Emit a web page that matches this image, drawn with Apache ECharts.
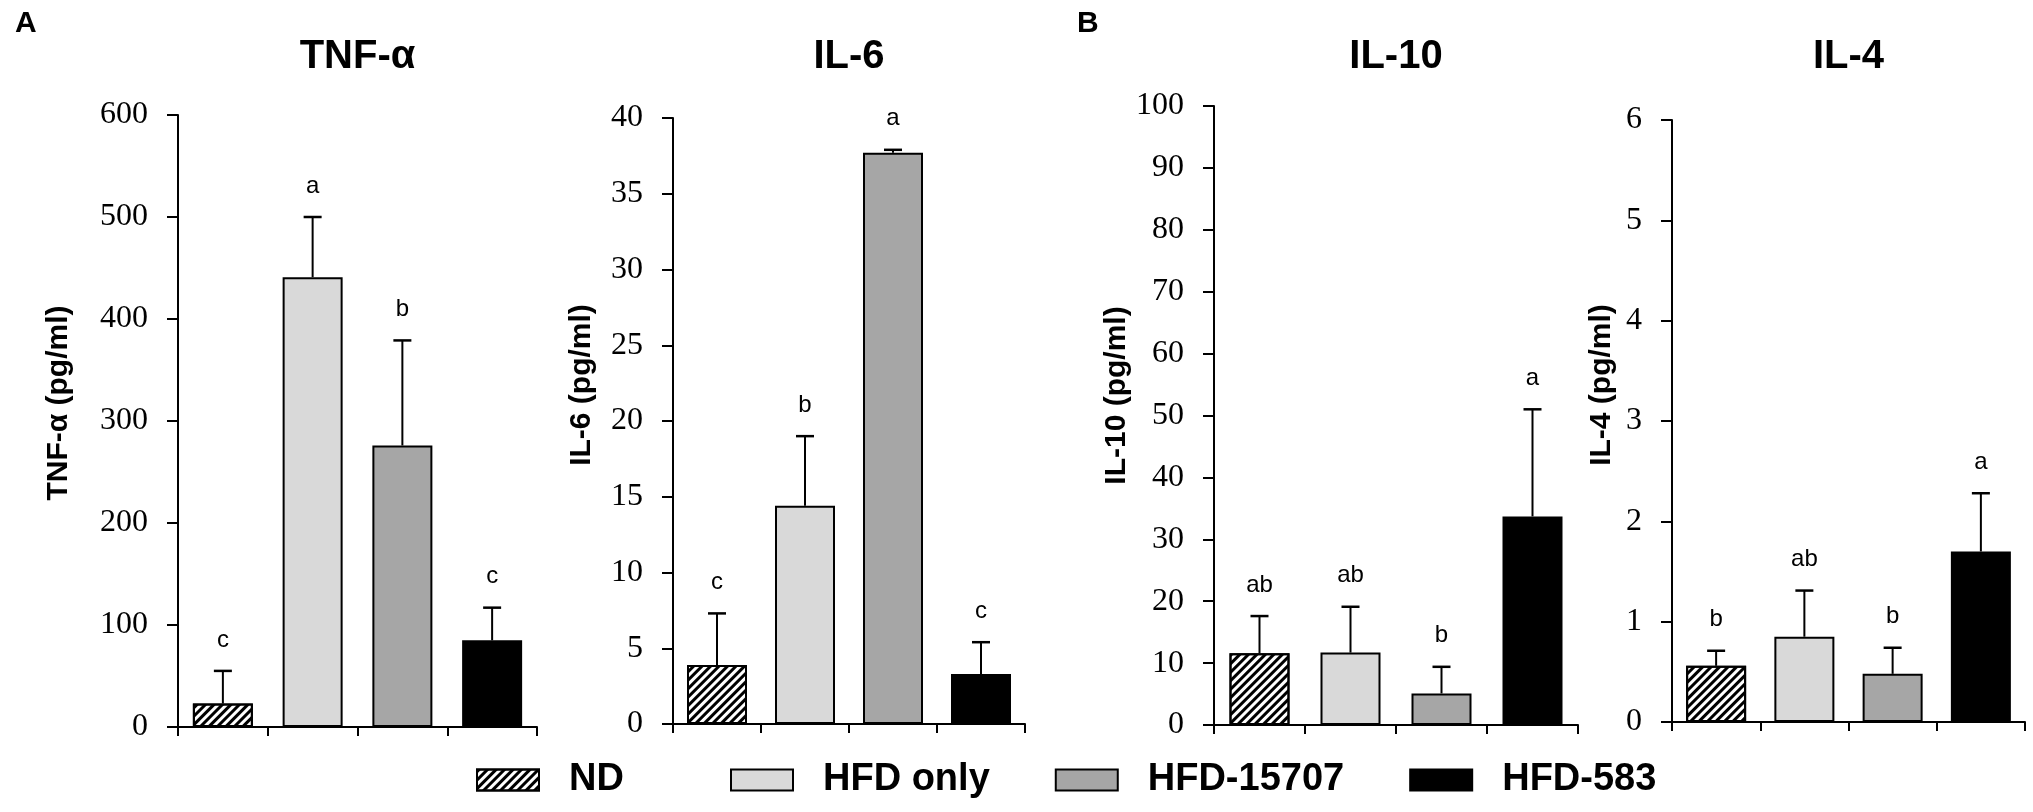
<!DOCTYPE html>
<html lang="en">
<head>
<meta charset="UTF-8">
<title>TNF-α, IL-6, IL-10, IL-4</title>
<script src="https://cdn.jsdelivr.net/npm/echarts@6/dist/echarts.min.js"></script>
<style>
  html, body { margin: 0; padding: 0; background: #fff; }
  #main { width: 2033px; height: 812px; }
</style>
</head>
<body>
<div id="main"></div>
<script>
// groups (legend / categories)
var groups = ['ND', 'HFD only', 'HFD-15707', 'HFD-583'];

// mean, sd and significance letters
var tnfMean = [23, 441, 276, 85];
var tnfSd = [32, 59, 103, 32];
var tnfSig = ['c', 'a', 'b', 'c'];

var il6Mean = [3.9, 14.4, 37.7, 3.3];
var il6Sd = [3.4, 4.6, 0.2, 2.1];
var il6Sig = ['c', 'b', 'a', 'c'];

var il10Mean = [11.6, 11.7, 5.1, 33.7];
var il10Sd = [6.0, 7.4, 4.3, 17.3];
var il10Sig = ['ab', 'ab', 'b', 'a'];

var il4Mean = [0.56, 0.85, 0.48, 1.70];
var il4Sd = [0.15, 0.46, 0.26, 0.58];
var il4Sig = ['b', 'ab', 'b', 'a'];

var SANS = '"Liberation Sans", Arial, sans-serif';
var SERIF = '"Liberation Serif", "Times New Roman", serif';

// bar look per group
var barStyles = [
  { color: '#fff', borderColor: '#000', borderWidth: 2,
    decal: { symbol: 'rect', symbolSize: 1, dashArrayX: [1, 0], dashArrayY: [2.4, 2.4], rotation: -Math.PI / 4, color: '#000' } },
  { color: '#d9d9d9', borderColor: '#000', borderWidth: 2 },
  { color: '#a6a6a6', borderColor: '#000', borderWidth: 2 },
  { color: '#000', borderColor: '#000', borderWidth: 2 }
];

var panels = [
  { title: 'TNF-α', yName: 'TNF-α (pg/ml)', mean: tnfMean, sd: tnfSd, sig: tnfSig, max: 600, step: 100,
    left: 178, top: 115, width: 359, height: 612, nameGap: 104, namePad: 36 },
  { title: 'IL-6', yName: 'IL-6 (pg/ml)', mean: il6Mean, sd: il6Sd, sig: il6Sig, max: 40, step: 5,
    left: 673, top: 118, width: 352, height: 606, nameGap: 76, namePad: 72 },
  { title: 'IL-10', yName: 'IL-10 (pg/ml)', mean: il10Mean, sd: il10Sd, sig: il10Sig, max: 100, step: 10,
    left: 1214, top: 106, width: 364, height: 619, nameGap: 79, namePad: 40 },
  { title: 'IL-4', yName: 'IL-4 (pg/ml)', mean: il4Mean, sd: il4Sd, sig: il4Sig, max: 6, step: 1,
    left: 1672, top: 120, width: 353, height: 602, nameGap: 55, namePad: 72 }
];

var axisLine = { lineStyle: { color: '#000', width: 2 } };

function errorBars(p) {
  return function (params, api) {
    var j = api.value(0);
    var base = api.coord([j, api.value(1)]);
    var tip = api.coord([j, api.value(2)]);
    return {
      type: 'group',
      children: [
        { type: 'line', shape: { x1: base[0], y1: base[1], x2: tip[0], y2: tip[1] },
          style: { stroke: '#000', lineWidth: 2 } },
        { type: 'line', shape: { x1: tip[0] - 9, y1: tip[1], x2: tip[0] + 9, y2: tip[1] },
          style: { stroke: '#000', lineWidth: 2.5 } },
        { type: 'text', style: { text: p.sig[params.dataIndex], x: tip[0], y: tip[1] - 31,
          align: 'center', verticalAlign: 'middle', font: '24px ' + SANS, fill: '#000' } }
      ]
    };
  };
}

var grids = [], xAxes = [], yAxes = [], series = [], graphics = [];

panels.forEach(function (p, i) {
  grids.push({ left: p.left, top: p.top, width: p.width, height: p.height,
    containLabel: false, outerBoundsMode: 'none' });
  xAxes.push({
    type: 'category', gridIndex: i, data: groups,
    axisLine: axisLine,
    axisTick: { show: true, length: 9, lineStyle: { color: '#000', width: 2 } },
    axisLabel: { show: false },
    splitLine: { show: false }
  });
  yAxes.push({
    type: 'value', gridIndex: i, min: 0, max: p.max, interval: p.step,
    name: p.yName, nameLocation: 'middle', nameRotate: 90, nameGap: p.nameGap,
    nameTextStyle: { fontFamily: SANS, fontSize: 30, fontWeight: 'bold', color: '#000',
      padding: [0, 0, 0, p.namePad] },
    axisLine: { show: true, lineStyle: { color: '#000', width: 2 } },
    axisTick: { show: true, length: 11, lineStyle: { color: '#000', width: 2 } },
    axisLabel: { margin: 30, fontFamily: SERIF, fontSize: 32, color: '#000' },
    splitLine: { show: false }
  });
  groups.forEach(function (g, k) {
    series.push({
      type: 'bar', name: g, xAxisIndex: i, yAxisIndex: i,
      barWidth: 60, barGap: '-100%',
      data: p.mean.map(function (v, j) { return j === k ? v : '-'; }),
      itemStyle: barStyles[k],
      silent: true
    });
  });
  series.push({
    type: 'custom', name: 'err' + i, xAxisIndex: i, yAxisIndex: i, z: 5, silent: true,
    data: p.mean.map(function (m, j) { return [j, m, m + p.sd[j]]; }),
    renderItem: errorBars(p)
  });
  graphics.push({ type: 'text', x: p.left + p.width / 2, y: 57,
    style: { text: p.title, font: 'bold 40px ' + SANS, fill: '#000', align: 'center', verticalAlign: 'middle' } });
});

graphics.push({ type: 'text', x: 15, y: 24,
  style: { text: 'A', font: 'bold 30px ' + SANS, fill: '#000', align: 'left', verticalAlign: 'middle' } });
graphics.push({ type: 'text', x: 1077, y: 24,
  style: { text: 'B', font: 'bold 30px ' + SANS, fill: '#000', align: 'left', verticalAlign: 'middle' } });

var legendBase = {
  orient: 'horizontal', top: 761, itemWidth: 62, itemHeight: 21, itemGap: 65,
  icon: 'rect', selectedMode: false, padding: 0,
  itemStyle: { borderColor: '#000', borderWidth: 2 },
  textStyle: { fontFamily: SANS, fontSize: 38, fontWeight: 'bold', color: '#000', padding: [0, 0, 0, 25] }
};

var chart = echarts.init(document.getElementById('main'));
chart.setOption({
  animation: false,
  backgroundColor: '#fff',
  grid: grids,
  xAxis: xAxes,
  yAxis: yAxes,
  legend: [
    Object.assign({}, legendBase, { left: 476, data: ['ND'] }),
    Object.assign({}, legendBase, { left: 730, data: ['HFD only', 'HFD-15707', 'HFD-583'] })
  ],
  graphic: graphics,
  series: series
});
</script>
</body>
</html>
